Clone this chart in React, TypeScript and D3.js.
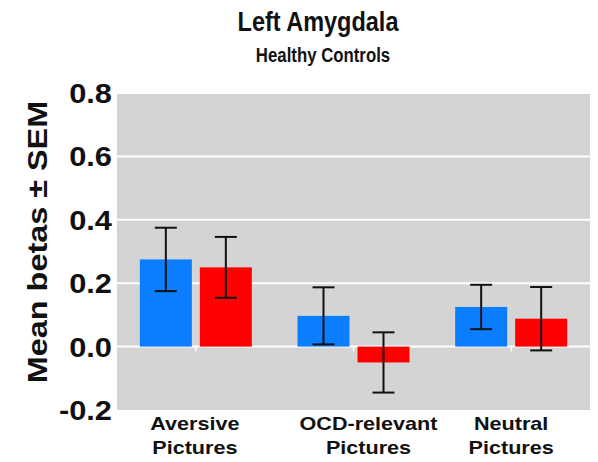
import React from "react";
import * as d3 from "d3";

// Conditions along the x axis (two-line labels)
const categories = ["Aversive Pictures", "OCD-relevant Pictures", "Neutral Pictures"];
const categoryLines = [["Aversive", "Pictures"], ["OCD-relevant", "Pictures"], ["Neutral", "Pictures"]];
// Two series per condition
const seriesNames = ["Series A", "Series B"];
const seriesColors = ["#0a7eff", "#ff0000"];
const meanA = [0.275, 0.097, 0.125];
const semA = [0.1, 0.09, 0.07];
const meanB = [0.25, -0.05, 0.088];
const semB = [0.096, 0.095, 0.1];
const yTicks = [-0.2, 0.0, 0.2, 0.4, 0.6, 0.8];

const W = 598;
const H = 462;
const plot = { left: 117, right: 590, top: 93, bottom: 410 };
const fontFamily = "'Liberation Sans', Arial, Helvetica, sans-serif";

type LabelProps = {
  x: number;
  y: number;
  size: number;
  sx?: number;
  rotate?: number;
  anchor?: "start" | "middle" | "end";
  dy?: string;
  children: React.ReactNode;
};

// Bold label with an optional horizontal stretch
function Label({ x, y, size, sx = 1, rotate = 0, anchor = "middle", dy, children }: LabelProps) {
  return (
    <text
      transform={`translate(${x},${y}) rotate(${rotate}) scale(${sx},1)`}
      textAnchor={anchor}
      fontWeight="bold"
      fontSize={size}
      dy={dy}
      fill="#111"
    >
      {children}
    </text>
  );
}

export default function App() {
  const x = d3
    .scaleBand<string>()
    .domain(categories)
    .range([plot.left, plot.right])
    .padding(0);
  const y = d3.scaleLinear().domain([-0.2, 0.8]).range([plot.bottom, plot.top]);
  const barW = 52;
  const gap = 8;
  const capHalf = 11;
  const means = [meanA, meanB];
  const sems = [semA, semB];
  const labelShift = [-1, 15, 0];

  return (
    <svg
      width={W}
      height={H}
      style={{ position: "absolute", left: 0, top: 0, background: "#fff" }}
      fontFamily={fontFamily}
    >
      <Label x={318} y={31} size={27} sx={0.87}>
        Left Amygdala
      </Label>
      <Label x={323} y={62} size={21} sx={0.8}>
        Healthy Controls
      </Label>

      <rect
        x={plot.left}
        y={plot.top}
        width={plot.right - plot.left}
        height={plot.bottom - plot.top}
        fill="#d4d4d4"
      />
      {yTicks.map((t) => (
        <g key={t}>
          {t > -0.2 && (
            <line
              x1={plot.left}
              x2={plot.right}
              y1={y(t)}
              y2={y(t)}
              stroke="#ffffff"
              strokeWidth={2}
            />
          )}
          <Label x={112} y={y(t)} size={28} sx={1.1} anchor="end" dy="0.36em">
            {t.toFixed(1)}
          </Label>
        </g>
      ))}

      {categories.map((c, i) => {
        const cx = (x(c) as number) + x.bandwidth() / 2;
        return (
          <g key={c}>
            <line x1={cx} x2={cx} y1={y(0)} y2={y(0) + 5} stroke="#ffffff" strokeWidth={1.5} />
            {seriesNames.map((s, j) => {
              const v = means[j][i];
              const e = sems[j][i];
              const bx = j === 0 ? cx - gap / 2 - barW : cx + gap / 2;
              const mid = bx + barW / 2;
              return (
                <g key={s}>
                  <rect
                    x={bx}
                    y={Math.min(y(v), y(0))}
                    width={barW}
                    height={Math.abs(y(v) - y(0))}
                    fill={seriesColors[j]}
                  />
                  <line x1={mid} x2={mid} y1={y(v + e)} y2={y(v - e)} stroke="#111" strokeWidth={2} />
                  <line
                    x1={mid - capHalf}
                    x2={mid + capHalf}
                    y1={y(v + e)}
                    y2={y(v + e)}
                    stroke="#111"
                    strokeWidth={2}
                  />
                  <line
                    x1={mid - capHalf}
                    x2={mid + capHalf}
                    y1={y(v - e)}
                    y2={y(v - e)}
                    stroke="#111"
                    strokeWidth={2}
                  />
                </g>
              );
            })}
            {categoryLines[i].map((line, k) => (
              <Label key={k} x={cx + labelShift[i]} y={430 + k * 24} size={18} sx={1.2}>
                {line}
              </Label>
            ))}
          </g>
        );
      })}

      <Label x={47} y={242} size={27} sx={1.2} rotate={-90}>
        Mean betas ± SEM
      </Label>
    </svg>
  );
}
